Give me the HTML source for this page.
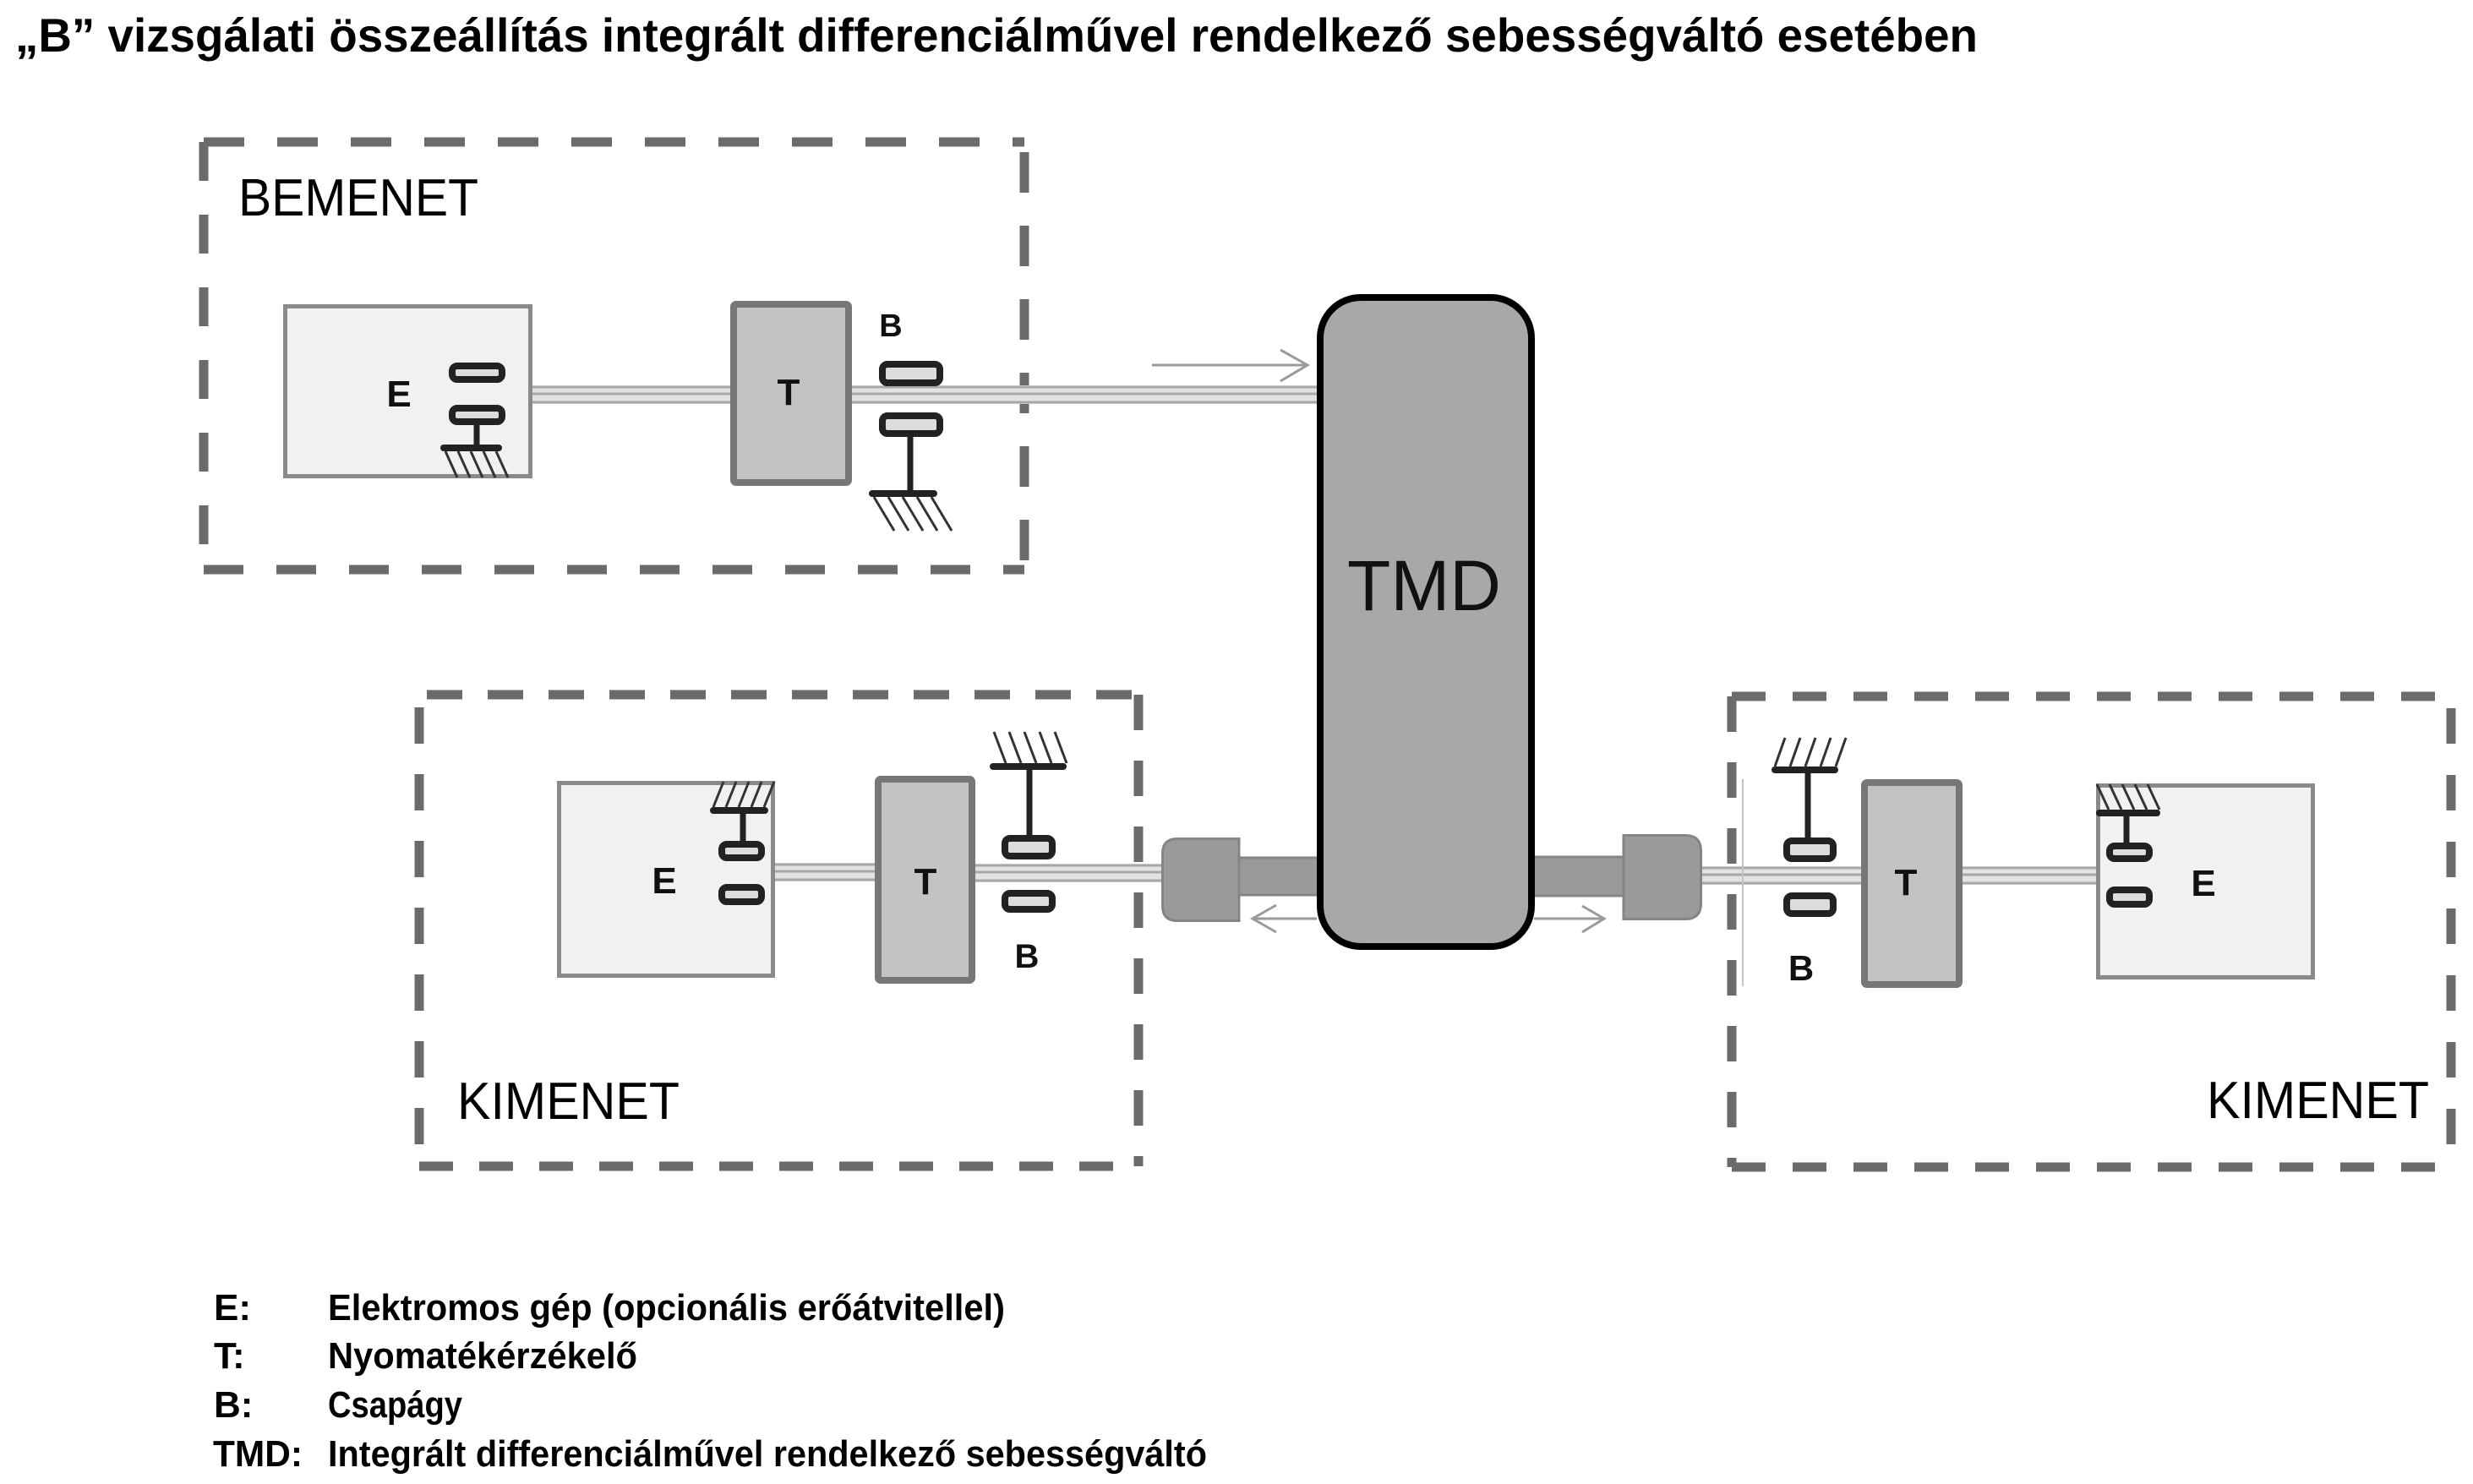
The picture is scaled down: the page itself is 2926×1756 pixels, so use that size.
<!DOCTYPE html>
<html><head><meta charset="utf-8"><style>
html,body{margin:0;padding:0;background:#fff;}
svg{display:block;}
</style></head><body>
<svg width="2926" height="1756" viewBox="0 0 2926 1756" xmlns="http://www.w3.org/2000/svg">
<rect width="2926" height="1756" fill="#fff"/>
<!-- Title -->
<text x="18" y="61" font-family="Liberation Sans, sans-serif" font-weight="bold" font-size="56" fill="#000" textLength="2322" lengthAdjust="spacingAndGlyphs">„B” vizsgálati összeállítás integrált differenciálművel rendelkező sebességváltó esetében</text>

<!-- Dashed boxes -->
<g stroke="#6b6b6b" stroke-width="11" fill="none">
  <!-- BEMENET -->
  <line x1="241" y1="168" x2="1212" y2="168" stroke-dasharray="48 39"/>
  <line x1="241" y1="168" x2="241" y2="674" stroke-dasharray="46 40"/>
  <line x1="241" y1="674" x2="1212" y2="674" stroke-dasharray="47 39"/>
  <line x1="1212" y1="180" x2="1212" y2="674" stroke-dasharray="48 39"/>
  <!-- left KIMENET -->
  <line x1="505" y1="822" x2="1347" y2="822" stroke-dasharray="42 30"/>
  <line x1="496" y1="837" x2="496" y2="1380" stroke-dasharray="43 36"/>
  <line x1="496" y1="1380" x2="1347" y2="1380" stroke-dasharray="40 31"/>
  <line x1="1347" y1="822" x2="1347" y2="1380" stroke-dasharray="42 36"/>
  <!-- right KIMENET -->
  <line x1="2049" y1="824" x2="2900" y2="824" stroke-dasharray="40 32"/>
  <line x1="2049" y1="824" x2="2049" y2="1381" stroke-dasharray="42 36"/>
  <line x1="2049" y1="1381" x2="2900" y2="1381" stroke-dasharray="40 32"/>
  <line x1="2900" y1="838" x2="2900" y2="1381" stroke-dasharray="42 37"/>
</g>

<!-- Labels -->
<g font-family="Liberation Sans, sans-serif" fill="#000">
  <text x="282" y="255" font-size="62" textLength="284" lengthAdjust="spacingAndGlyphs">BEMENET</text>
  <text x="541" y="1324" font-size="62" textLength="263" lengthAdjust="spacingAndGlyphs">KIMENET</text>
  <text x="2611" y="1323" font-size="62" textLength="263" lengthAdjust="spacingAndGlyphs">KIMENET</text>
</g>

<!-- Shafts -->
<g>
  <rect x="630" y="456" width="234" height="22" fill="#e2e2e2"/>
  <rect x="1008" y="456" width="550" height="22" fill="#e2e2e2"/>
  <rect x="917" y="1021" width="118" height="22" fill="#e2e2e2"/>
  <rect x="1154" y="1022" width="220" height="22" fill="#e2e2e2"/>
  <rect x="2014" y="1025" width="188" height="22" fill="#e2e2e2"/>
  <rect x="2322" y="1025" width="158" height="22" fill="#e2e2e2"/>
</g>
<g stroke="#a8a8a8" stroke-width="3">
  <line x1="630" y1="458" x2="864" y2="458"/><line x1="630" y1="466" x2="864" y2="466"/><line x1="630" y1="476" x2="864" y2="476"/>
  <line x1="1008" y1="458" x2="1558" y2="458"/><line x1="1008" y1="466" x2="1558" y2="466"/><line x1="1008" y1="476" x2="1558" y2="476"/>
  <line x1="917" y1="1023" x2="1035" y2="1023"/><line x1="917" y1="1031" x2="1035" y2="1031"/><line x1="917" y1="1041" x2="1035" y2="1041"/>
  <line x1="1154" y1="1024" x2="1374" y2="1024"/><line x1="1154" y1="1032" x2="1374" y2="1032"/><line x1="1154" y1="1042" x2="1374" y2="1042"/>
  <line x1="2014" y1="1027" x2="2202" y2="1027"/><line x1="2014" y1="1035" x2="2202" y2="1035"/><line x1="2014" y1="1045" x2="2202" y2="1045"/>
  <line x1="2322" y1="1027" x2="2480" y2="1027"/><line x1="2322" y1="1035" x2="2480" y2="1035"/><line x1="2322" y1="1045" x2="2480" y2="1045"/>
</g>
<line x1="2062" y1="922" x2="2062" y2="1167" stroke="#c4c4c4" stroke-width="2"/>

<!-- E boxes -->
<g fill="#f1f1f1" stroke="#8a8a8a" stroke-width="5">
  <rect x="337.5" y="362.5" width="290" height="201"/>
  <rect x="661.5" y="926.5" width="253" height="228"/>
  <rect x="2482.5" y="929.5" width="254" height="227"/>
</g>
<!-- T boxes -->
<g fill="#c3c3c3" stroke="#777" stroke-width="8">
  <rect x="868" y="360" width="136" height="211" rx="3"/>
  <rect x="1039" y="922" width="111" height="238" rx="3"/>
  <rect x="2206" y="926" width="112" height="239" rx="3"/>
</g>

<!-- Couplings & thick shafts -->
<g fill="#9a9a9a" stroke="#858585" stroke-width="3">
  <rect x="1466" y="1015" width="94" height="44"/>
  <path d="M1466,992.5 L1393,992.5 Q1375.5,992.5 1375.5,1010 L1375.5,1072 Q1375.5,1089.5 1393,1089.5 L1466,1089.5 Z"/>
  <rect x="1812" y="1014" width="110" height="46"/>
  <path d="M1921,988.5 L1994,988.5 Q2012.5,988.5 2012.5,1007 L2012.5,1069 Q2012.5,1087.5 1994,1087.5 L1921,1087.5 Z"/>
</g>

<!-- TMD -->
<rect x="1562" y="352" width="250" height="768" rx="48" fill="#a8a8a8" stroke="#000" stroke-width="8"/>
<text x="1685" y="722" text-anchor="middle" font-family="Liberation Sans, sans-serif" font-size="84" fill="#111">TMD</text>

<!-- Arrows -->
<g stroke="#9a9a9a" stroke-width="3" fill="none">
  <line x1="1363" y1="432" x2="1547" y2="432"/>
  <polyline points="1515,414 1547,432 1515,451"/>
  <line x1="1558" y1="1087" x2="1482" y2="1087"/>
  <polyline points="1510,1071 1482,1087 1510,1103"/>
  <line x1="1815" y1="1087" x2="1898" y2="1087"/>
  <polyline points="1872,1072 1898,1087 1872,1103"/>
</g>

<!-- Bearings -->
<g fill="#dcdcdc" stroke="#222" stroke-width="8">
  <rect x="535" y="433" width="59" height="16" rx="6"/>
  <rect x="535" y="483" width="59" height="16" rx="6"/>
  <rect x="1044" y="431" width="68" height="22" rx="6"/>
  <rect x="1044" y="492" width="68" height="21" rx="6"/>
  <rect x="854" y="999" width="47" height="16" rx="6"/>
  <rect x="854" y="1050" width="47" height="17" rx="6"/>
  <rect x="1189" y="992" width="56" height="21" rx="6"/>
  <rect x="1189" y="1057" width="56" height="19" rx="6"/>
  <rect x="2114" y="995" width="55" height="21" rx="6"/>
  <rect x="2114" y="1060" width="55" height="21" rx="6"/>
  <rect x="2496" y="1001" width="47" height="15" rx="6"/>
  <rect x="2496" y="1053" width="47" height="17" rx="6"/>
</g>
<!-- Stems & ground lines -->
<g stroke="#222" stroke-linecap="round">
  <line x1="564" y1="503" x2="564" y2="530" stroke-width="7"/>
  <line x1="525" y1="530" x2="590" y2="530" stroke-width="8"/>
  <line x1="1077" y1="517" x2="1077" y2="584" stroke-width="7"/>
  <line x1="1032" y1="584" x2="1105" y2="584" stroke-width="8"/>
  <line x1="879" y1="995" x2="879" y2="959" stroke-width="7"/>
  <line x1="844" y1="959" x2="905" y2="959" stroke-width="8"/>
  <line x1="1218" y1="988" x2="1218" y2="907" stroke-width="7"/>
  <line x1="1175" y1="907" x2="1258" y2="907" stroke-width="8"/>
  <line x1="2139" y1="991" x2="2139" y2="911" stroke-width="7"/>
  <line x1="2100" y1="911" x2="2171" y2="911" stroke-width="8"/>
  <line x1="2516" y1="998" x2="2516" y2="962" stroke-width="7"/>
  <line x1="2484" y1="962" x2="2552" y2="962" stroke-width="8"/>
</g>
<!-- Hatches -->
<g stroke="#333" stroke-width="3">
  <line x1="527" y1="534" x2="541" y2="565"/><line x1="542" y1="534" x2="556" y2="565"/><line x1="557" y1="534" x2="571" y2="565"/><line x1="572" y1="534" x2="586" y2="565"/><line x1="587" y1="534" x2="601" y2="565"/>
  <line x1="1034" y1="588" x2="1058" y2="628"/><line x1="1051" y1="588" x2="1075" y2="628"/><line x1="1068" y1="588" x2="1092" y2="628"/><line x1="1085" y1="588" x2="1109" y2="628"/><line x1="1102" y1="588" x2="1126" y2="628"/>
  <line x1="1176" y1="866" x2="1190" y2="903"/><line x1="1194" y1="866" x2="1208" y2="903"/><line x1="1212" y1="866" x2="1226" y2="903"/><line x1="1230" y1="866" x2="1244" y2="903"/><line x1="1248" y1="866" x2="1262" y2="903"/>
  <line x1="856" y1="925" x2="844" y2="955"/><line x1="871" y1="925" x2="859" y2="955"/><line x1="886" y1="925" x2="874" y2="955"/><line x1="901" y1="925" x2="889" y2="955"/><line x1="916" y1="925" x2="904" y2="955"/>
  <line x1="2112" y1="873" x2="2100" y2="907"/><line x1="2130" y1="873" x2="2118" y2="907"/><line x1="2148" y1="873" x2="2136" y2="907"/><line x1="2166" y1="873" x2="2154" y2="907"/><line x1="2184" y1="873" x2="2172" y2="907"/>
  <line x1="2481" y1="928" x2="2495" y2="958"/><line x1="2496" y1="928" x2="2510" y2="958"/><line x1="2511" y1="928" x2="2525" y2="958"/><line x1="2526" y1="928" x2="2540" y2="958"/><line x1="2541" y1="928" x2="2555" y2="958"/>
</g>

<!-- Component letters -->
<g font-family="Liberation Sans, sans-serif" font-weight="bold" fill="#111" text-anchor="middle">
  <text x="472" y="481" font-size="44">E</text>
  <text x="933" y="479" font-size="44">T</text>
  <text x="1054" y="398" font-size="38">B</text>
  <text x="786" y="1057" font-size="44">E</text>
  <text x="1095" y="1058" font-size="44">T</text>
  <text x="1215" y="1145" font-size="40">B</text>
  <text x="2255" y="1059" font-size="44">T</text>
  <text x="2131" y="1160" font-size="42">B</text>
  <text x="2607" y="1060" font-size="44">E</text>
</g>

<!-- Legend -->
<g font-family="Liberation Sans, sans-serif" font-weight="bold" font-size="44" fill="#000">
  <text x="253" y="1562">E:</text>
  <text x="388" y="1562" textLength="801" lengthAdjust="spacingAndGlyphs">Elektromos gép (opcionális erőátvitellel)</text>
  <text x="253" y="1619">T:</text>
  <text x="388" y="1619" textLength="366" lengthAdjust="spacingAndGlyphs">Nyomatékérzékelő</text>
  <text x="253" y="1677">B:</text>
  <text x="388" y="1677" textLength="159" lengthAdjust="spacingAndGlyphs">Csapágy</text>
  <text x="252" y="1735" textLength="106" lengthAdjust="spacingAndGlyphs">TMD:</text>
  <text x="388" y="1735" textLength="1040" lengthAdjust="spacingAndGlyphs">Integrált differenciálművel rendelkező sebességváltó</text>
</g>
</svg>
</body></html>
